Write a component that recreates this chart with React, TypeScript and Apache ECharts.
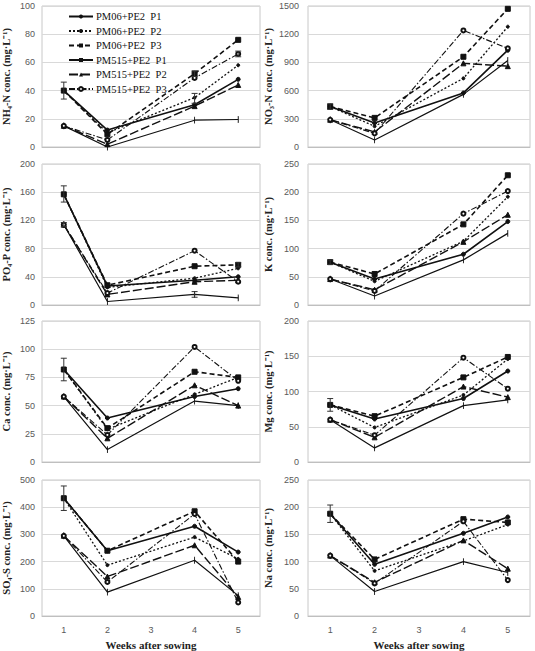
import React, { useEffect, useRef } from "react";
import * as echarts from "echarts";

const weeks = ["1", "2", "3", "4", "5"];
const seriesNames = [
  "PM06+PE2  P1",
  "PM06+PE2  P2",
  "PM06+PE2  P3",
  "PM515+PE2  P1",
  "PM515+PE2  P2",
  "PM515+PE2  P3",
];

// values per week 1..5 (week 3 not sampled)
const nh4 = [
  [40, 12, null, 30, 48],
  [40, 10, null, 35, 58],
  [40, 9, null, 52, 76],
  [15, 0, null, 19, 19.5],
  [15, 2, null, 29, 44],
  [15, 5, null, 49, 66],
];
const no3 = [
  [430, 255, null, 575, 1030],
  [430, 220, null, 730, 1280],
  [430, 310, null, 960, 1470],
  [290, 75, null, 560, 920],
  [290, 160, null, 890, 860],
  [290, 145, null, 1240, 1050],
];
const po4 = [
  [157, 27, null, 35, 40],
  [157, 25, null, 38, 52],
  [157, 28, null, 55, 57],
  [114, 5, null, 15, 10],
  [114, 15, null, 33, 35],
  [114, 17, null, 77, 33],
];
const kData = [
  [76, 46, null, 90, 148],
  [76, 42, null, 113, 192],
  [76, 55, null, 143, 230],
  [46, 16, null, 80, 127],
  [46, 27, null, 112, 160],
  [46, 25, null, 162, 202],
];
const ca = [
  [82, 39, null, 58, 65],
  [82, 29, null, 60, 75],
  [82, 30, null, 80, 75],
  [58, 11, null, 54, 50],
  [58, 21, null, 68, 50],
  [58, 24, null, 102, 72],
];
const mg = [
  [81, 61, null, 90, 129],
  [81, 49, null, 95, 146],
  [81, 65, null, 120, 149],
  [60, 20, null, 80, 88],
  [60, 35, null, 107, 92],
  [60, 38, null, 148, 104],
];
const so4 = [
  [433, 240, null, 330, 235],
  [433, 187, null, 290, 210],
  [433, 240, null, 385, 200],
  [295, 88, null, 205, 75],
  [295, 145, null, 260, 70],
  [295, 125, null, 375, 50],
];
const na = [
  [188, 95, null, 152, 182],
  [188, 83, null, 138, 168],
  [188, 104, null, 178, 172],
  [111, 45, null, 100, 80],
  [111, 62, null, 139, 87],
  [111, 60, null, 174, 66],
];

// error bars: [week index, low, high]
const nh4Err = [[0, 34, 46], [3, 31, 38], [3, 50, 54], [4, 64, 68]];
const no3Err = [[0, 400, 460]];
const po4Err = [[0, 146, 169], [0, 111, 117], [3, 11, 19], [4, 54, 60]];
const kErr = [[0, 72, 80]];
const caErr = [[0, 72, 92]];
const mgErr = [[0, 72, 90]];
const so4Err = [[0, 388, 478]];
const naErr = [[0, 172, 204]];

const yNames = [
  "NH₄-N conc. (mg·L⁻¹)",
  "NO₃-N conc. (mg·L⁻¹)",
  "PO₄-P conc. (mg·L⁻¹)",
  "K conc. (mg·L⁻¹)",
  "Ca conc. (mg·L⁻¹)",
  "Mg conc. (mg·L⁻¹)",
  "SO₄-S conc. (mg·L⁻¹)",
  "Na conc. (mg·L⁻¹)",
];
const yMax = [100, 1500, 200, 250, 125, 200, 500, 250];
const yStep = [20, 300, 40, 50, 25, 50, 100, 50];
const xTitle = "Weeks after sowing";

const panelData = [nh4, no3, po4, kData, ca, mg, so4, na];
const panelErr = [nh4Err, no3Err, po4Err, kErr, caErr, mgErr, so4Err, naErr];

const styles = [
  { type: "solid", width: 1.6, symbol: "circle", size: 4 },
  { type: [2, 2], width: 1.3, symbol: "circle", size: 3 },
  { type: [5, 3], width: 1.6, symbol: "rect", size: 5 },
  { type: "solid", width: 1.2, symbol: "path://M0,0H2V10H0Z", size: [1.5, 5] },
  { type: [9, 3], width: 1.4, symbol: "triangle", size: 5 },
  { type: [6, 2, 1.5, 2], width: 1.1, symbol: "emptyCircle", size: 4 },
];

export default function App() {
  const ref = useRef<HTMLDivElement>(null);
  useEffect(() => {
    if (!ref.current) return;
    const chart = echarts.init(ref.current, null, { renderer: "svg" });
    const tops = [6, 164, 321, 480];
    const grids: any[] = [];
    const xAxes: any[] = [];
    const yAxes: any[] = [];
    const series: any[] = [];
    for (let i = 0; i < 8; i++) {
      const col = i % 2;
      const row = Math.floor(i / 2);
      grids.push({
        left: col === 0 ? 40 : 308,
        top: tops[row],
        width: col === 0 ? 220 : 222,
        height: 141,
        show: true,
        borderColor: "#c8c8c8",
        borderWidth: 1,
        backgroundColor: "transparent",
      });
      const bottom = row === 3;
      xAxes.push({
        type: "category",
        gridIndex: i,
        data: weeks,
        boundaryGap: true,
        axisLine: { lineStyle: { color: "#bfbfbf" } },
        axisTick: { show: false },
        axisLabel: {
          show: bottom,
          color: "#595959",
          fontFamily: "Liberation Sans",
          fontSize: 9,
          margin: 9,
        },
        name: bottom ? xTitle : "",
        nameLocation: "middle",
        nameGap: 23,
        nameTextStyle: {
          fontFamily: "Liberation Serif",
          fontWeight: "bold",
          fontSize: 11,
          color: "#222",
        },
      });
      yAxes.push({
        type: "value",
        gridIndex: i,
        min: 0,
        max: yMax[i],
        interval: yStep[i],
        axisLine: { show: false },
        axisTick: { show: false },
        splitLine: { lineStyle: { color: "#d9d9d9", width: 1 } },
        axisLabel: {
          color: "#595959",
          fontFamily: "Liberation Sans",
          fontSize: 9,
          margin: col === 0 ? 7 : 9,
          formatter: (v: number) => String(v),
        },
        name: yNames[i],
        nameLocation: "middle",
        nameGap: col === 0 ? 30 : 34,
        nameTextStyle: {
          fontFamily: "Liberation Serif",
          fontWeight: "bold",
          fontSize: 10.5,
          color: "#222",
        },
      });
      panelData[i].forEach((vals, s) => {
        const st = styles[s];
        series.push({
          type: "line",
          name: seriesNames[s],
          xAxisIndex: i,
          yAxisIndex: i,
          data: vals,
          connectNulls: true,
          symbol: st.symbol,
          symbolSize: st.size,
          symbolKeepAspect: true,
          showSymbol: true,
          lineStyle: { color: "#111", width: st.width, type: st.type },
          itemStyle: { color: "#111", borderColor: "#111" },
          emphasis: { disabled: true },
          z: 3,
        });
      });
      series.push({
        type: "custom",
        name: "err" + i,
        xAxisIndex: i,
        yAxisIndex: i,
        data: panelErr[i],
        encode: { x: 0, y: [1, 2] },
        z: 4,
        renderItem: (params: any, api: any) => {
          const x = api.value(0);
          const lo = api.coord([x, api.value(1)]);
          const hi = api.coord([x, api.value(2)]);
          const w = 3;
          const ls = { stroke: "#333", lineWidth: 1 };
          return {
            type: "group",
            children: [
              { type: "line", shape: { x1: lo[0], y1: lo[1], x2: hi[0], y2: hi[1] }, style: ls },
              { type: "line", shape: { x1: lo[0] - w, y1: lo[1], x2: lo[0] + w, y2: lo[1] }, style: ls },
              { type: "line", shape: { x1: hi[0] - w, y1: hi[1], x2: hi[0] + w, y2: hi[1] }, style: ls },
            ],
          };
        },
      });
    }
    chart.setOption({
      animation: false,
      backgroundColor: "#ffffff",
      grid: grids,
      xAxis: xAxes,
      yAxis: yAxes,
      legend: {
        data: seriesNames,
        orient: "vertical",
        left: 68,
        top: 11,
        itemWidth: 24,
        itemHeight: 5,
        itemGap: 3.5,
        padding: 0,
        selectedMode: false,
        textStyle: {
          fontFamily: "Liberation Serif",
          fontSize: 10.5,
          lineHeight: 11,
          color: "#111",
          padding: [0, 0, 0, -2],
        },
      },
      series,
    });
    return () => chart.dispose();
  }, []);
  return (
    <div
      ref={ref}
      style={{ position: "absolute", left: 0, top: 0, width: 535, height: 651 }}
    />
  );
}
